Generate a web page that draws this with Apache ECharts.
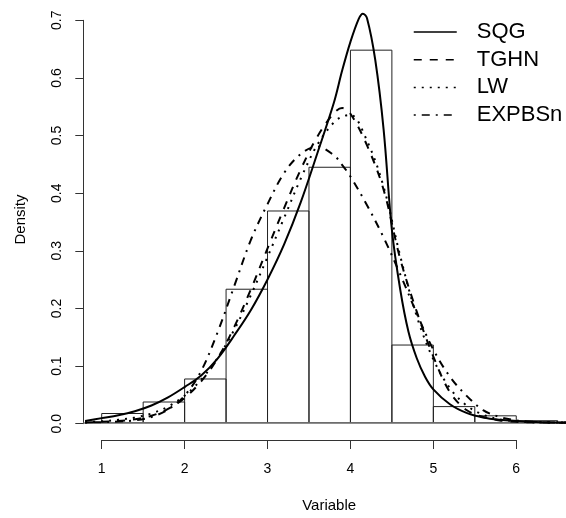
<!DOCTYPE html>
<html>
<head>
<meta charset="utf-8">
<script src="https://cdn.jsdelivr.net/npm/echarts@6/dist/echarts.min.js"></script>
<style>html,body{margin:0;background:#fff}#main{width:566px;height:518px}</style>
</head>
<body>
<div id="main"></div>
<script>
// histogram bins (width 0.5) and heights
let binStart = [1.0, 1.5, 2.0, 2.5, 3.0, 3.5, 4.0, 4.5, 5.0, 5.5, 6.0];
let binHeight = [0.016, 0.036, 0.076, 0.232, 0.368, 0.444, 0.6475, 0.135, 0.028, 0.012, 0.0035];

// density curves
let sqgX = [0.8, 1.0, 1.2, 1.4, 1.6, 1.8, 2.0, 2.2, 2.4, 2.6, 2.8, 3.0, 3.2, 3.4, 3.6, 3.8, 3.9, 4.0, 4.1, 4.15, 4.2, 4.3, 4.4, 4.5, 4.6, 4.7, 4.8, 4.9, 5.0, 5.2, 5.4, 5.6, 5.8, 6.0, 6.3, 6.6];
let sqgY = [0.003, 0.008, 0.013, 0.02, 0.03, 0.044, 0.062, 0.082, 0.112, 0.152, 0.196, 0.249, 0.31, 0.383, 0.468, 0.556, 0.612, 0.662, 0.702, 0.711, 0.703, 0.63, 0.51, 0.335, 0.232, 0.158, 0.112, 0.08, 0.058, 0.032, 0.017, 0.009, 0.005, 0.003, 0.001, 0.0005];

let gridX = [0.8, 1.0, 1.2, 1.4, 1.6, 1.8, 2.0, 2.2, 2.4, 2.6, 2.8, 3.0, 3.2, 3.4, 3.6, 3.8, 3.9, 4.0, 4.2, 4.4, 4.6, 4.8, 5.0, 5.2, 5.4, 5.6, 5.8, 6.0, 6.2, 6.4, 6.6];
let tghnY = [0.0005, 0.0015, 0.003, 0.006, 0.012, 0.024, 0.043, 0.072, 0.112, 0.167, 0.232, 0.303, 0.373, 0.44, 0.497, 0.538, 0.547, 0.537, 0.482, 0.405, 0.285, 0.193, 0.115, 0.053, 0.022, 0.01, 0.004, 0.0015, 0.0006, 0.0002, 0.0001];
let lwY = [0.001, 0.0025, 0.005, 0.009, 0.016, 0.028, 0.047, 0.075, 0.113, 0.162, 0.222, 0.288, 0.356, 0.424, 0.483, 0.522, 0.532, 0.535, 0.49, 0.41, 0.29, 0.185, 0.11, 0.06, 0.03, 0.014, 0.006, 0.0025, 0.001, 0.0004, 0.0002];
let expY = [0.0005, 0.001, 0.002, 0.004, 0.01, 0.023, 0.047, 0.09, 0.158, 0.238, 0.318, 0.38, 0.434, 0.467, 0.48, 0.465, 0.448, 0.428, 0.378, 0.322, 0.258, 0.19, 0.127, 0.08, 0.047, 0.022, 0.01, 0.004, 0.0015, 0.0006, 0.0002];

let xTicks = [1, 6];
let yTicks = [0, 0.7];

function pairs(xs, ys) {
    return xs.map((x, i) => [x, ys[i]]);
}

let font = 'Liberation Sans, Arial, Helvetica, sans-serif';

function curve(name, xs, ys, type) {
    return {
        name: name,
        type: 'line',
        xAxisIndex: 0,
        yAxisIndex: 0,
        data: pairs(xs, ys),
        symbol: 'none',
        smooth: 0.35,
        silent: true,
        z: 5,
        itemStyle: {color: '#000'},
        lineStyle: {color: '#000', width: 2, type: type}
    };
}

let myChart = echarts.init(document.getElementById('main'));
let option = {
    animation: false,
    backgroundColor: '#fff',
    textStyle: {fontFamily: font},
    grid: [
        {left: 83.3, top: 0, width: 482.7, height: 440},      // plot region
        {left: 101.7, top: 0, width: 414.5, height: 440},     // x axis 1..6
        {left: 83.3, top: 20.3, width: 100, height: 403.4}    // y axis 0..0.7
    ],
    xAxis: [
        {
            gridIndex: 0, type: 'value', min: 0.778, max: 6.6,
            axisLine: {show: false}, axisTick: {show: false}, axisLabel: {show: false}, splitLine: {show: false},
            name: 'Variable', nameLocation: 'middle', nameGap: 59,
            nameTextStyle: {fontSize: 15, color: '#000', fontFamily: font, padding: [0, 0, 0, 9]}
        },
        {
            gridIndex: 1, type: 'value', min: xTicks[0], max: xTicks[1], interval: 1,
            axisLine: {show: true, lineStyle: {color: '#333', width: 1}},
            axisTick: {show: true, length: 9, lineStyle: {color: '#333', width: 1}},
            axisLabel: {fontSize: 14, color: '#000', margin: 22, fontFamily: font},
            splitLine: {show: false}
        },
        {gridIndex: 2, type: 'value', show: false, min: 0, max: 1}
    ],
    yAxis: [
        {
            gridIndex: 0, type: 'value', min: -0.0283, max: 0.7347,
            axisLine: {show: false}, axisTick: {show: false}, axisLabel: {show: false}, splitLine: {show: false},
            name: 'Density', nameLocation: 'middle', nameGap: 55, nameRotate: 90,
            nameTextStyle: {fontSize: 15, color: '#000', fontFamily: font}
        },
        {gridIndex: 1, type: 'value', show: false, min: 0, max: 1},
        {
            gridIndex: 2, type: 'value', min: yTicks[0], max: yTicks[1], interval: 0.1,
            axisLine: {show: true, lineStyle: {color: '#333', width: 1}},
            axisTick: {show: true, length: 8, lineStyle: {color: '#333', width: 1}},
            axisLabel: {fontSize: 14, color: '#000', margin: 19, rotate: 90, fontFamily: font,
                formatter: v => v.toFixed(1)},
            splitLine: {show: false}
        }
    ],
    legend: {
        orient: 'vertical',
        left: 413,
        top: 21,
        padding: 0,
        itemWidth: 43,
        itemHeight: 14,
        itemGap: 5.7,
        selectedMode: false,
        textStyle: {fontSize: 22, lineHeight: 22, color: '#000', fontFamily: font, padding: [0, 0, 0, 15]},
        itemStyle: {opacity: 0},
        lineStyle: {width: 1.5, color: '#000'},
        data: ['SQG', 'TGHN', 'LW', 'EXPBSn']
    },
    series: [
        {
            type: 'custom',
            xAxisIndex: 0,
            yAxisIndex: 0,
            silent: true,
            z: 2,
            data: binStart.map((s, i) => [s, s + 0.5, binHeight[i]]),
            renderItem: function (params, api) {
                let p0 = api.coord([api.value(0), api.value(2)]);
                let p1 = api.coord([api.value(1), 0]);
                return {
                    type: 'rect',
                    shape: {x: p0[0], y: p0[1], width: p1[0] - p0[0], height: p1[1] - p0[1]},
                    style: {fill: 'none', stroke: '#222', lineWidth: 1}
                };
            },
            markLine: {
                silent: true,
                symbol: 'none',
                label: {show: false},
                lineStyle: {color: '#777', width: 1.5, type: 'solid'},
                data: [{yAxis: 0}]
            }
        },
        curve('SQG', sqgX, sqgY, 'solid'),
        curve('TGHN', gridX, tghnY, [8, 8]),
        curve('LW', gridX, lwY, [2, 6]),
        curve('EXPBSn', gridX, expY, [2, 6, 8, 6])
    ]
};
myChart.setOption(option);
</script>
</body>
</html>
